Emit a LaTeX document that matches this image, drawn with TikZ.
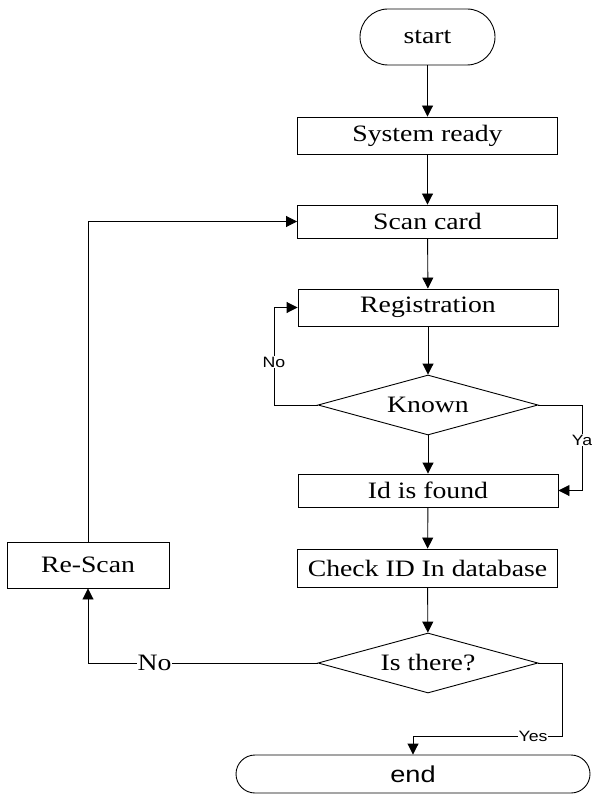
\documentclass[tikz,border=0pt]{standalone}
\usepackage{fontspec}
\setmainfont[FakeStretch=1.18]{Liberation Serif}
\newfontfamily\labelsans[FakeStretch=1.18]{Liberation Sans}
\usetikzlibrary{arrows.meta,shapes.geometric,calc}
\begin{document}
\begin{tikzpicture}[x=1pt,y=-1pt,
  every node/.style={font=\fontsize{23.5}{27}\selectfont},
  proc/.style={draw, line width=0.9pt, rectangle, minimum width=260pt, minimum height=35pt, inner sep=0pt},
  term/.style={draw, line width=0.9pt, rectangle, inner sep=0pt},
  dec/.style={draw, line width=0.9pt, diamond, minimum width=220pt, minimum height=60pt, aspect=3.667, inner sep=0pt},
  arr/.style={line width=0.9pt, -{Triangle[length=11pt,width=11pt]}},
  smlab/.style={fill=white, inner sep=1pt, font=\labelsans\fontsize{15}{18}\selectfont},
  serlab/.style={fill=white, inner sep=1pt}
]
\useasboundingbox (0,0) rectangle (591,794);

\node[term, rounded corners=28pt, minimum width=135pt, minimum height=56pt] (start) at (427.5,37) {start};
\node[proc, minimum height=37pt] (sys) at (427.5,135.5) {System ready};
\node[proc, minimum height=33pt] (scan) at (427.5,221.5) {Scan card};
\node[proc, minimum height=37pt] (reg) at (428,307.5) {Registration};
\node[dec] (known) at (428,405) {Known};
\node[proc, minimum height=33pt] (idf) at (428,490.5) {Id is found};
\node[proc, minimum height=38pt] (check) at (427.5,568) {Check ID In database};
\node[dec] (isthere) at (428,663) {Is there?};
\node[proc, minimum width=162pt, minimum height=46pt] (rescan) at (88,565) {Re-Scan};
\node[term, rounded corners=19pt, minimum width=354pt, minimum height=38pt, font=\labelsans\fontsize{23}{27}\selectfont] (end) at (413,774) {end};

\coordinate (kw) at (274,405);
\coordinate (ke) at (582,405);
\coordinate (ie) at (562,663);
\coordinate (iy) at (562,736);
\coordinate (iyl) at (413,736);

\draw[arr] (start) -- (sys);
\draw[arr] (sys) -- (scan);
\draw[arr] (scan) -- (reg);
\draw[arr] (reg) -- (known);
\draw[arr] (known) -- (idf);
\draw[arr] (idf) -- (check);
\draw[arr] (check) -- (isthere);

\draw[arr] (known.west) -- (kw) |- (reg.west);
\draw[arr] (known.east) -- (ke) |- (idf.east);
\draw[arr] (isthere.west) -| (rescan.south);
\draw[arr] (rescan.north) |- (scan.west);
\draw[arr] (isthere.east) -- (ie) -- (iy) -- (iyl) -- (end.north);

\node[smlab] (lno1) at (274,362) {No};
\node[smlab] (lya) at (582,440) {Ya};
\node[serlab] (lno2) at (154.5,663) {No};
\node[smlab] (lyes) at (533,736) {Yes};
\end{tikzpicture}
\end{document}
